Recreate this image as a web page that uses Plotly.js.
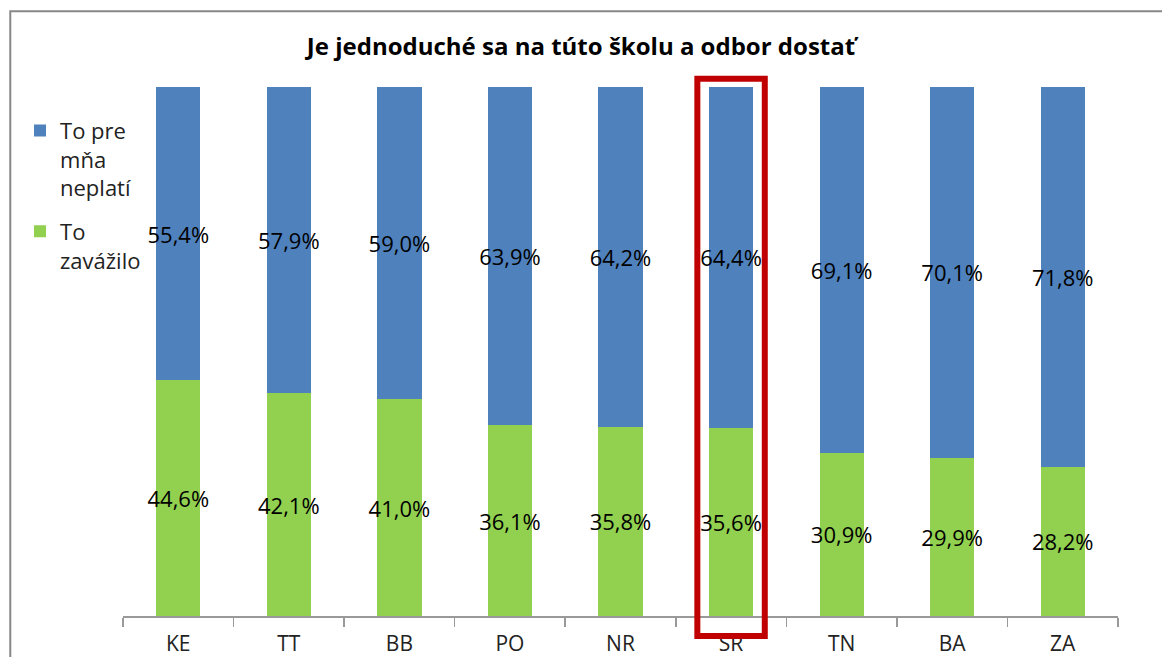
<!DOCTYPE html>
<html>
<head>
<meta charset="utf-8">
<script src="https://cdn.plot.ly/plotly-3.0.1.min.js"></script>
<style>
  html, body { margin: 0; padding: 0; background: #fff; }
  #chart { width: 1162px; height: 657px; }
</style>
</head>
<body>
<div id="chart"></div>
<script>
var regions = ["KE", "TT", "BB", "PO", "NR", "SR", "TN", "BA", "ZA"];
var mattered = [44.6, 42.1, 41.0, 36.1, 35.8, 35.6, 30.9, 29.9, 28.2];
var notApply = [55.4, 57.9, 59.0, 63.9, 64.2, 64.4, 69.1, 70.1, 71.8];
var highlight = "SR";

var labelFont = { family: "'Open Sans', sans-serif", size: 22, color: "#000" };

var green = {
  x: regions,
  y: mattered,
  name: "To<br>zavážilo",
  legendgroup: "g",
  legendrank: 2,
  type: "bar",
  marker: { color: "#92D050" },
  texttemplate: "%{y:.1f}%",
  textposition: "inside",
  insidetextanchor: "middle",
  textangle: 0,
  constraintext: "none",
  textfont: labelFont,
  hoverinfo: "skip"
};

var blue = {
  x: regions,
  y: notApply,
  name: "To pre<br>mňa<br>neplatí",
  legendgroup: "b",
  legendrank: 1,
  type: "bar",
  marker: { color: "#4F81BD" },
  texttemplate: "%{y:.1f}%",
  textposition: "inside",
  insidetextanchor: "middle",
  textangle: 0,
  constraintext: "none",
  textfont: labelFont,
  hoverinfo: "skip"
};

var hi = regions.indexOf(highlight);

var layout = {
  width: 1162,
  height: 657,
  barmode: "stack",
  bargap: 0.6,
  separators: ", ",
  paper_bgcolor: "#fff",
  plot_bgcolor: "#fff",
  margin: { l: 123, r: 44, t: 87, b: 41 },
  font: { family: "'Open Sans', sans-serif", color: "#222" },
  title: {
    text: "<b>Je jednoduché sa na túto školu a odbor dostať</b>",
    font: { size: 24, color: "#000" },
    x: 0.5,
    xref: "container",
    y: 1 - 47 / 657,
    yanchor: "middle"
  },
  xaxis: {
    type: "category",
    showline: true,
    linecolor: "#999",
    linewidth: 1.5,
    ticks: "outside",
    tickson: "boundaries",
    ticklen: 9,
    tickcolor: "#999",
    tickwidth: 1.5,
    ticklabelstandoff: 8,
    tickfont: { size: 21, color: "#222" },
    showgrid: false,
    zeroline: false
  },
  yaxis: {
    range: [0, 100],
    visible: false,
    showgrid: false,
    zeroline: false
  },
  legend: {
    x: -0.1035,
    xanchor: "left",
    y: 0.957,
    yanchor: "top",
    traceorder: "grouped",
    valign: "top",
    tracegroupgap: 12,
    font: { size: 22, color: "#222" },
    bgcolor: "rgba(0,0,0,0)"
  },
  shapes: [
    {
      type: "rect",
      xref: "x",
      yref: "paper",
      x0: hi - 0.305,
      x1: hi + 0.305,
      y0: -0.038,
      y1: 1.0155,
      line: { color: "#C00000", width: 6 },
      fillcolor: "rgba(0,0,0,0)",
      layer: "above"
    },
    {
      type: "rect",
      xref: "paper",
      yref: "paper",
      x0: -0.1133,
      x1: 1.5,
      y0: -0.5,
      y1: 1.143,
      line: { color: "#888", width: 2 },
      fillcolor: "rgba(0,0,0,0)",
      layer: "below"
    }
  ],
  showlegend: true
};

Plotly.newPlot("chart", [green, blue], layout, { displayModeBar: false, staticPlot: true });
</script>
</body>
</html>
